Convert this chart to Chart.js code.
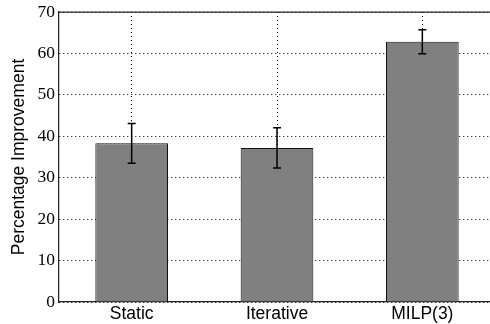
<!DOCTYPE html>
<html><head><meta charset="utf-8">
<script src="https://cdn.jsdelivr.net/npm/chart.js@4/dist/chart.umd.min.js"></script>
<style>html,body{margin:0;padding:0;overflow:hidden;background:#fff}#w{width:495px;height:324px}</style>
</head><body><div id="w"><canvas id="c" width="495" height="324"></canvas></div>
<script>
const categories = ['Static', 'Iterative', 'MILP(3)'];
const improvement = [38.3, 37.2, 62.8];
const errors = [4.8, 4.85, 2.9];
const yTicks = [0, 10, 20, 30, 40, 50, 60, 70];

const errorBars = {
  id: 'errorBars',
  afterDatasetsDraw(chart) {
    const ctx = chart.ctx, y = chart.scales.y;
    const meta = chart.getDatasetMeta(0);
    ctx.save();
    ctx.strokeStyle = '#000';
    ctx.lineWidth = 1.5;
    meta.data.forEach((el, i) => {
      const x = el.x;
      const t = y.getPixelForValue(improvement[i] + errors[i]);
      const b = y.getPixelForValue(improvement[i] - errors[i]);
      ctx.beginPath();
      ctx.moveTo(x, t); ctx.lineTo(x, b);
      ctx.moveTo(x - 4, t); ctx.lineTo(x + 4, t);
      ctx.moveTo(x - 4, b); ctx.lineTo(x + 4, b);
      ctx.stroke();
    });
    ctx.restore();
  },
  afterDraw(chart) {
    const ctx = chart.ctx, a = chart.chartArea;
    ctx.save();
    ctx.strokeStyle = '#222';
    ctx.lineWidth = 1.25;
    ctx.beginPath();
    ctx.moveTo(a.left, a.top); ctx.lineTo(a.right, a.top);
    ctx.stroke();
    ctx.restore();
  }
};

new Chart(document.getElementById('c'), {
  type: 'bar',
  data: {
    labels: categories,
    datasets: [{
      data: improvement,
      backgroundColor: '#808080',
      borderColor: '#111',
      borderWidth: 1,
      categoryPercentage: 1,
      barPercentage: 0.5
    }]
  },
  options: {
    responsive: false,
    animation: false,
    devicePixelRatio: 1,
    layout: { padding: { top: 12, right: 0, bottom: 0, left: 0 } },
    plugins: { legend: { display: false }, tooltip: { enabled: false } },
    scales: {
      x: {
        z: 1,
        offset: true,
        afterFit(s) { s.height = 22; },
        grid: { display: true, offset: false, color: '#000', lineWidth: 1, drawTicks: false },
        border: { display: true, color: '#222', width: 1.25, dash: [1, 3] },
        ticks: { color: '#000', padding: 2, font: { family: 'Liberation Sans', size: 17.5 } }
      },
      y: {
        z: 1,
        min: 0, max: 70,
        afterBuildTicks(s) { s.ticks = yTicks.map(v => ({ value: v })); },
        afterFit(s) { s.width = 59; s.paddingTop = 0; s.paddingBottom = 0; },
        grid: { display: true, color: '#000', lineWidth: 1, drawTicks: false },
        border: { display: true, color: '#222', width: 1.25, dash: [1, 3] },
        ticks: { color: '#000', padding: 4, font: { family: 'Liberation Serif', size: 17.5 } },
        title: { display: true, text: 'Percentage Improvement', color: '#000', padding: { top: 9, bottom: 0 }, font: { family: 'Liberation Sans', size: 17.5 } }
      }
    }
  },
  plugins: [errorBars]
});
</script>
</body></html>
